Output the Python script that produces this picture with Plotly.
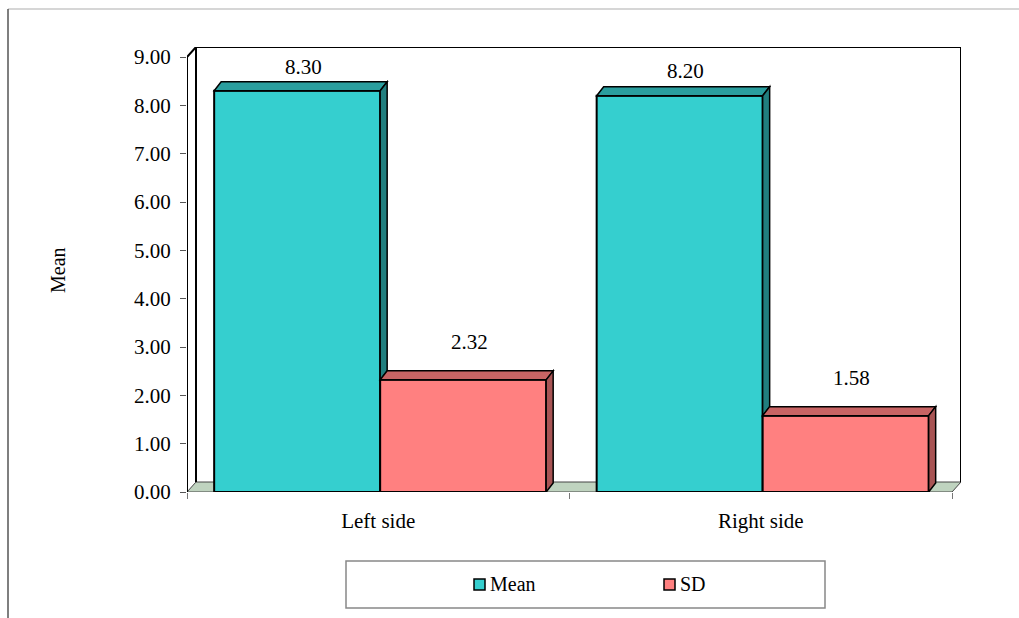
import plotly.graph_objects as go

# ---- data ----
categories = ["Left side", "Right side"]
mean_values = [8.30, 8.20]
sd_values = [2.32, 1.58]
y_tick_values = [0, 1, 2, 3, 4, 5, 6, 7, 8, 9]
y_tick_labels = [f"{v:.2f}" for v in y_tick_values]

# ---- styling ----
W, H = 1019, 618
FONT = "Liberation Serif"
FS = 21
# front plane of the plot in pixels (left, right, top, bottom)
PX_L, PX_R, PX_T, PX_B = 187, 952, 57, 492
N_CAT = len(categories)
Y_MAX = 9
ux = (PX_R - PX_L) / N_CAT     # px per x unit
uy = (PX_B - PX_T) / Y_MAX     # px per y unit

# oblique depth of bars and of the walls/floor (pixels -> data units)
BAR_DEPTH_PX = (7, 9)
WALL_DEPTH_PX = (9, 10)
bdx, bdy = BAR_DEPTH_PX[0] / ux, BAR_DEPTH_PX[1] / uy
wdx, wdy = WALL_DEPTH_PX[0] / ux, WALL_DEPTH_PX[1] / uy

# axes extend past the front plane so the receding walls are not clipped
X_RANGE = [0, N_CAT + wdx]
Y_RANGE = [0, Y_MAX + wdy]
DOM_X = [PX_L / W, (PX_R + WALL_DEPTH_PX[0]) / W]
DOM_Y = [1 - PX_B / H, 1 - (PX_T - WALL_DEPTH_PX[1]) / H]

bar_w = 0.434
shift = 0.005
series = [
    dict(name="Mean", values=mean_values, offset=-bar_w + shift,
         front="#35CFCF", top="#2A9E9E", side="#217F7F"),
    dict(name="SD", values=sd_values, offset=shift,
         front="#FF8080", top="#C86464", side="#A85454"),
]
label_lift = [[24, 25], [38, 38]]   # pixel gap between bar top and its value label

centers = [i + 0.5 for i in range(N_CAT)]

fig = go.Figure()

shapes = []
# floor
shapes.append(dict(type="path", xref="x", yref="y", layer="below",
                   path=f"M0,0 L{N_CAT},0 L{N_CAT+wdx},{wdy} L{wdx},{wdy} Z",
                   fillcolor="#BFD3BF", line=dict(color="#444444", width=1)))
# back wall
shapes.append(dict(type="path", xref="x", yref="y", layer="below",
                   path=(f"M{wdx},{wdy} L{wdx},{Y_MAX+wdy} "
                         f"L{N_CAT+wdx},{Y_MAX+wdy} L{N_CAT+wdx},{wdy}"),
                   fillcolor="rgba(0,0,0,0)", line=dict(color="black", width=2)))
# left wall: front edge (value axis line) and top edge
shapes.append(dict(type="path", xref="x", yref="y", layer="below",
                   path=f"M0,0 L0,{Y_MAX} L{wdx},{Y_MAX+wdy}",
                   line=dict(color="black", width=2)))

for si, s in enumerate(series):
    fig.add_trace(go.Bar(
        x=centers, y=s["values"], name=s["name"],
        width=bar_w, offset=s["offset"],
        marker=dict(color=s["front"], line=dict(color="black", width=2)),
        showlegend=False, hoverinfo="skip",
    ))

# 3D top and side faces, drawn series by series so later bars cover earlier sides
for ci, c in enumerate(centers):
    for si, s in enumerate(series):
        v = s["values"][ci]
        left = c + s["offset"]
        right = left + bar_w
        bottom = series[si + 1]["values"][ci] if si + 1 < len(series) else 0
        shapes.append(dict(type="path", xref="x", yref="y", layer="above",
                           path=(f"M{left},{v} L{left+bdx},{v+bdy} "
                                 f"L{right+bdx},{v+bdy} L{right},{v} Z"),
                           fillcolor=s["top"], line=dict(color="black", width=1.5)))
        shapes.append(dict(type="path", xref="x", yref="y", layer="above",
                           path=(f"M{right},{v} L{right+bdx},{v+bdy} "
                                 f"L{right+bdx},{bottom+bdy} L{right},{bottom} Z"),
                           fillcolor=s["side"], line=dict(color="black", width=1.5)))

annotations = []
for si, s in enumerate(series):
    for ci, c in enumerate(centers):
        v = s["values"][ci]
        annotations.append(dict(
            x=c + s["offset"] + bar_w / 2, y=v, xref="x", yref="y",
            text=f"{v:.2f}", showarrow=False, xshift=6,
            yshift=label_lift[si][ci], yanchor="middle",
            font=dict(family=FONT, size=FS, color="black")))

# value axis title
annotations.append(dict(x=58 / W, y=1 - 270 / H, xref="paper", yref="paper",
                        text="Mean", textangle=-90, showarrow=False,
                        xanchor="center", yanchor="middle",
                        font=dict(family=FONT, size=FS - 1, color="black")))

# outer frame
shapes.append(dict(type="line", xref="paper", yref="paper",
                   x0=8 / W, x1=1, y0=1 - 9 / H, y1=1 - 9 / H,
                   line=dict(color="#C8C8C8", width=1.5)))
shapes.append(dict(type="line", xref="paper", yref="paper",
                   x0=8 / W, x1=8 / W, y0=0, y1=1 - 9 / H,
                   line=dict(color="#555555", width=1.5)))

# legend box
shapes.append(dict(type="rect", xref="paper", yref="paper",
                   x0=346 / W, x1=825 / W, y0=1 - 608 / H, y1=1 - 561 / H,
                   line=dict(color="#888888", width=1.5), fillcolor="white"))
legend_x = [474, 664]
for s, lx in zip(series, legend_x):
    shapes.append(dict(type="rect", xref="paper", yref="paper",
                       x0=lx / W, x1=(lx + 11) / W, y0=1 - 590 / H, y1=1 - 579 / H,
                       line=dict(color="black", width=1.5), fillcolor=s["front"]))
    annotations.append(dict(x=(lx + 14) / W, y=1 - 584 / H, xref="paper", yref="paper",
                            text=s["name"], showarrow=False, xanchor="left",
                            yanchor="middle",
                            font=dict(family=FONT, size=FS - 1, color="black")))

fig.update_layout(
    template="none",
    width=W, height=H,
    margin=dict(l=0, r=0, t=0, b=0, autoexpand=False),
    font=dict(family=FONT, size=FS, color="black"),
    paper_bgcolor="white", plot_bgcolor="white",
    barmode="overlay",
    showlegend=False,
    shapes=shapes,
    annotations=annotations,
    xaxis=dict(
        domain=DOM_X, range=X_RANGE, automargin=False,
        tickvals=centers, ticktext=categories, ticks="",
        showgrid=False, zeroline=False, showline=False,
        tickfont=dict(family=FONT, size=FS, color="black"),
        ticklabelstandoff=14,
        minor=dict(tickvals=list(range(N_CAT + 1)), ticks="outside",
                   ticklen=6, tickcolor="#777777", tickwidth=1, showgrid=False),
        fixedrange=True,
    ),
    yaxis=dict(
        domain=DOM_Y, range=Y_RANGE, automargin=False,
        tickvals=y_tick_values, ticktext=y_tick_labels,
        ticks="outside", ticklen=6, tickcolor="#555555", tickwidth=1,
        ticklabelstandoff=5,
        showgrid=False, zeroline=False, showline=False,
        tickfont=dict(family=FONT, size=FS, color="black"),
        fixedrange=True,
    ),
)

fig.write_html("out.html")
